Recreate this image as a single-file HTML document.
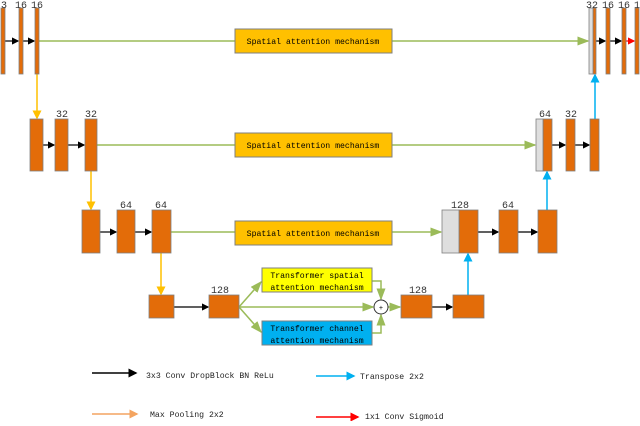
<!DOCTYPE html>
<html><head><style>body{margin:0;background:#fff}svg text{font-family:"Liberation Mono","DejaVu Sans Mono",monospace}</style></head><body>
<svg width="640" height="421" viewBox="0 0 640 421" xmlns="http://www.w3.org/2000/svg">
<defs>
<marker id="k" markerWidth="6" markerHeight="6" refX="5" refY="3" orient="auto"><path d="M0,0L6,3L0,6z" fill="#000"/></marker>
<marker id="g" markerWidth="8" markerHeight="6" refX="7" refY="3" orient="auto"><path d="M0,0L8,3L0,6z" fill="#9bbb59"/></marker>
<marker id="y" markerWidth="6" markerHeight="6" refX="5" refY="3" orient="auto"><path d="M0,0L6,3L0,6z" fill="#ffc000"/></marker>
<marker id="b" markerWidth="6" markerHeight="6" refX="5" refY="3" orient="auto"><path d="M0,0L6,3L0,6z" fill="#00b0f0"/></marker>
<marker id="r" markerWidth="6" markerHeight="6" refX="5" refY="3" orient="auto"><path d="M0,0L6,3L0,6z" fill="#f00"/></marker>
<marker id="o" markerWidth="6" markerHeight="6" refX="5" refY="3" orient="auto"><path d="M0,0L6,3L0,6z" fill="#f4a460"/></marker>
</defs>
<g stroke="#9bbb59" stroke-width="1.5" fill="none">
<line x1="39" y1="41" x2="235" y2="41"/><line x1="392" y1="41" x2="588" y2="41" marker-end="url(#g)"/>
<line x1="97" y1="145" x2="235" y2="145"/><line x1="392" y1="145" x2="535" y2="145" marker-end="url(#g)"/>
<line x1="171" y1="232" x2="235" y2="232"/><line x1="392" y1="232" x2="441" y2="232" marker-end="url(#g)"/>
<line x1="239" y1="307" x2="373" y2="307" marker-end="url(#g)"/>
<line x1="239" y1="307" x2="261" y2="282" marker-end="url(#g)"/>
<line x1="239" y1="307" x2="261" y2="332" marker-end="url(#g)"/>
<polyline points="372,281 381,281 381,299" marker-end="url(#g)"/>
<polyline points="372,333 381,333 381,315" marker-end="url(#g)"/>
<line x1="388" y1="307" x2="400" y2="307" marker-end="url(#g)"/>
</g>
<g stroke="#ffc000" stroke-width="1.5"><line x1="37" y1="74" x2="37" y2="118" marker-end="url(#y)"/><line x1="91" y1="171" x2="91" y2="209" marker-end="url(#y)"/><line x1="161" y1="253" x2="161" y2="294" marker-end="url(#y)"/></g>
<g stroke="#00b0f0" stroke-width="1.5"><line x1="468" y1="295" x2="468" y2="254" marker-end="url(#b)"/><line x1="547" y1="210" x2="547" y2="172" marker-end="url(#b)"/><line x1="595" y1="119" x2="595" y2="75" marker-end="url(#b)"/></g>
<g stroke="#000" stroke-width="1.2">
<line x1="5" y1="41" x2="18" y2="41" marker-end="url(#k)"/><line x1="23" y1="41" x2="34" y2="41" marker-end="url(#k)"/>
<line x1="596" y1="41" x2="605" y2="41" marker-end="url(#k)"/><line x1="610" y1="41" x2="621" y2="41" marker-end="url(#k)"/>
<line x1="43" y1="145" x2="54" y2="145" marker-end="url(#k)"/><line x1="68" y1="145" x2="84" y2="145" marker-end="url(#k)"/>
<line x1="552" y1="145" x2="565" y2="145" marker-end="url(#k)"/><line x1="575" y1="145" x2="589" y2="145" marker-end="url(#k)"/>
<line x1="100" y1="232" x2="116" y2="232" marker-end="url(#k)"/><line x1="135" y1="232" x2="151" y2="232" marker-end="url(#k)"/>
<line x1="478" y1="232" x2="498" y2="232" marker-end="url(#k)"/><line x1="518" y1="232" x2="537" y2="232" marker-end="url(#k)"/>
<line x1="174" y1="307" x2="208" y2="307" marker-end="url(#k)"/><line x1="432" y1="307" x2="452" y2="307" marker-end="url(#k)"/>
</g>
<line x1="626" y1="41" x2="634" y2="41" stroke="#f00" stroke-width="1.2" marker-end="url(#r)"/>
<g fill="#e36c09" stroke="#7f7f7f" stroke-width="0.8">
<rect x="1" y="8" width="4" height="66"/><rect x="19" y="8" width="4" height="66"/><rect x="35" y="8" width="4" height="66"/>
<rect x="593" y="8" width="3" height="66"/><rect x="606" y="8" width="4" height="66"/><rect x="622" y="8" width="4" height="66"/><rect x="635" y="8" width="4" height="66"/>
<rect x="30" y="119" width="13" height="52"/><rect x="55" y="119" width="13" height="52"/><rect x="85" y="119" width="12" height="52"/>
<rect x="543" y="119" width="9" height="52"/><rect x="566" y="119" width="9" height="52"/><rect x="590" y="119" width="9" height="52"/>
<rect x="82" y="210" width="18" height="43"/><rect x="117" y="210" width="18" height="43"/><rect x="152" y="210" width="19" height="43"/>
<rect x="459" y="210" width="19" height="43"/><rect x="499" y="210" width="19" height="43"/><rect x="538" y="210" width="19" height="43"/>
<rect x="149" y="295" width="25" height="23"/><rect x="209" y="295" width="30" height="23"/><rect x="401" y="295" width="31" height="23"/><rect x="453" y="295" width="31" height="23"/>
</g>
<g fill="#dedede" stroke="#7f7f7f" stroke-width="0.8"><rect x="589" y="8" width="4" height="66"/><rect x="536" y="119" width="7" height="52"/><rect x="442" y="210" width="17" height="43"/></g>
<g fill="#ffc000" stroke="#7f7f7f"><rect x="235" y="29" width="157" height="24"/><rect x="235" y="133" width="157" height="24"/><rect x="235" y="221" width="157" height="24"/></g>
<rect x="262" y="268" width="110" height="24" fill="#ffff00" stroke="#7f7f7f"/>
<rect x="262" y="321" width="110" height="24" fill="#00b0f0" stroke="#7f7f7f"/>
<circle cx="381" cy="307" r="7" fill="#fff" stroke="#333"/><text x="381" y="310" font-size="7" text-anchor="middle">+</text>
<g font-size="8.2" fill="#000" text-anchor="middle">
<text x="313" y="44">Spatial attention mechanism</text><text x="313" y="148">Spatial attention mechanism</text><text x="313" y="236">Spatial attention mechanism</text>
<text x="317" y="278">Transformer spatial</text><text x="317" y="290">attention mechanism</text>
<text x="317" y="331">Transformer channel</text><text x="317" y="343">attention mechanism</text>
</g>
<g font-size="10" fill="#333" text-anchor="middle" style="font-family:'Liberation Serif',serif">
<text x="4" y="8">3</text><text x="21" y="8">16</text><text x="37" y="8">16</text>
<text x="592" y="8">32</text><text x="608" y="8">16</text><text x="624" y="8">16</text><text x="637" y="8">1</text>
<text x="62" y="117">32</text><text x="91" y="117">32</text><text x="545" y="117">64</text><text x="571" y="117">32</text>
<text x="126" y="208">64</text><text x="161" y="208">64</text><text x="460" y="208">128</text><text x="508" y="208">64</text>
<text x="220" y="293">128</text><text x="418" y="293">128</text>
</g>
<line x1="92" y1="373" x2="136" y2="373" stroke="#000" stroke-width="1.5" marker-end="url(#k)"/>
<line x1="316" y1="376" x2="354" y2="376" stroke="#00b0f0" stroke-width="1.5" marker-end="url(#b)"/>
<line x1="92" y1="414" x2="137" y2="414" stroke="#f4a460" stroke-width="1.5" marker-end="url(#o)"/>
<line x1="316" y1="417" x2="358" y2="417" stroke="#f00" stroke-width="1.5" marker-end="url(#r)"/>
<g font-size="8.2" fill="#222"><text x="146" y="378">3x3 Conv DropBlock BN ReLu</text><text x="360" y="379">Transpose 2x2</text><text x="150" y="417">Max Pooling 2x2</text><text x="365" y="419">1x1 Conv Sigmoid</text></g>
</svg>
</body></html>
